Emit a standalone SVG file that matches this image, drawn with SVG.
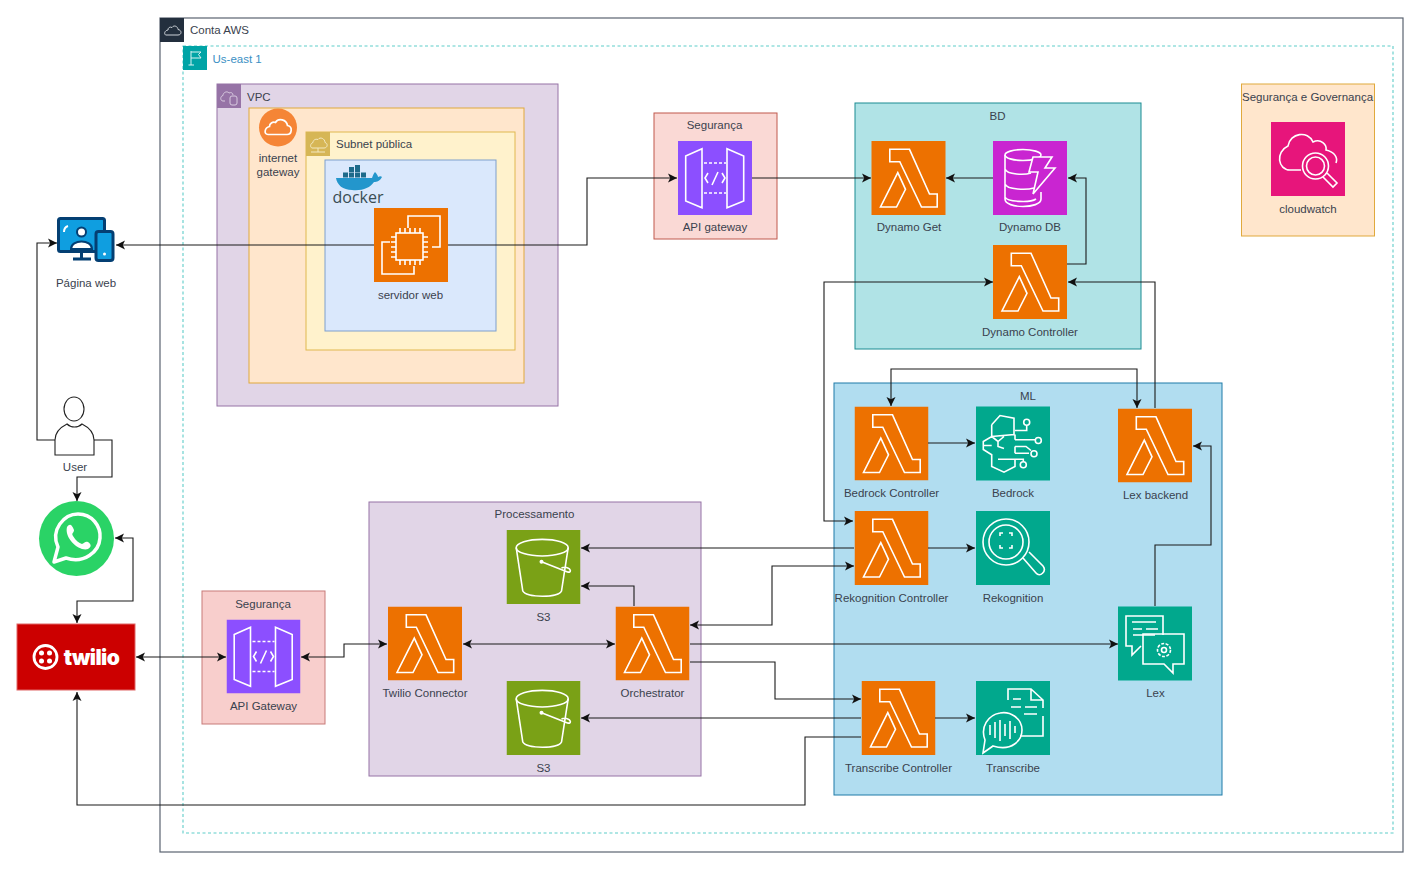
<svg xmlns="http://www.w3.org/2000/svg" width="1417" height="869" viewBox="0 0 1417 869">
<style>
text{font-family:"Liberation Sans",Arial,sans-serif;font-size:11.5px;fill:#3a424e;text-anchor:middle}
.l{text-anchor:start}
.i{fill:none;stroke:#fff;stroke-width:1.6;stroke-linejoin:miter}
.c{fill:none;stroke:#1a1a1a;stroke-width:1.1;marker-end:url(#a)}
.b{marker-start:url(#a)}
</style>
<defs>
<marker id="a" markerUnits="userSpaceOnUse" markerWidth="11" markerHeight="11" refX="9" refY="5" orient="auto-start-reverse"><path d="M0 .5L9 5L0 9.500L2.200 5z" fill="#111"/></marker>
<symbol id="lambda" viewBox="0 0 74 74"><rect width="74" height="74" fill="#ed7100"/><path class="i" d="M18.300 8.300H38L58 53H65.700V66H50L28.300 20.700H18.300zM26.300 31.700L34 48.300L25 66H9z"/></symbol>
<symbol id="api" viewBox="0 0 74 74"><rect width="74" height="74" fill="#8c4fff"/><path class="i" d="M7.700 15L24 7.700V66.700L7.700 60zM49 7.700L65.700 15V60L49 66.700z"/><path class="i" stroke-dasharray="3 2" d="M26 22H48M26 52H48"/><path class="i" d="M30 32L27 37L30 42M40 31L34 44M44 32L47 37L44 42"/></symbol>
<symbol id="bucket" viewBox="0 0 74 74"><rect width="74" height="74" fill="#7aa116"/><ellipse class="i" cx="35.700" cy="17.700" rx="26" ry="8.300"/><path class="i" d="M9.700 17.700L16.300 61C20 68 52 68 55 61L61.700 17.700M35 31.700L61 42C65 43 65 39 60 37.500C58 37 56 37.500 55 38"/><circle cx="35" cy="31.700" r="2" fill="#fff"/></symbol>
</defs>

<g id="conta-aws"><rect x="160" y="18" width="1243" height="834" fill="#fff" stroke="#5a6370" stroke-width="1.200"/><rect x="160" y="18" width="24" height="24" fill="#232f3e"/><path d="M166 35h12c4 0 4-5 0-5.500c0-3-4-5-6-2c-2-1-4 0-4 2.500c-4 .5-4 5-2 5z" fill="none" stroke="#cdd2d8"/><text class="l" x="190" y="34">Conta AWS</text></g>
<g id="us-east-1"><rect x="183" y="46" width="1210" height="787" fill="none" stroke="#5fcdc9" stroke-width="1.100" stroke-dasharray="3 2.500"/><rect x="183" y="46" width="24" height="24" fill="#00a4a6"/><path d="M191 51V65M188.500 65H194M191 52H201L198.500 54.500L201 58H191" fill="none" stroke="#d8f2f2"/><text class="l" x="212.500" y="63" style="fill:#3b8fc4">Us-east 1</text></g>

<g id="vpc"><rect x="217" y="84" width="341" height="322" fill="#e1d5e7" stroke="#9673a6"/><rect x="217" y="84" width="24" height="24" fill="#9673a6"/><path d="M225 101h-2c-3 0-3-5 0-5.500c0-3 4-5 6-2.500c2-1 4 0 4 2" fill="none" stroke="#d9cbe0"/><rect x="230" y="96" width="7" height="9" rx="2" fill="none" stroke="#d9cbe0"/><text class="l" x="247" y="101">VPC</text></g>
<g id="gateway-zone"><rect x="249" y="108" width="275" height="275" fill="#ffe6cc" stroke="#e0a93c"/></g>
<g id="internet-gateway"><circle cx="278" cy="127.500" r="19" fill="#f58536"/><path d="M268 134.500h19c5 0 6-8 .5-9c-1-6-9-8-12-3c-3-1-6 1-6 4c-5 1-6 8-1.500 8z" fill="none" stroke="#fff" stroke-width="1.700"/><text x="278" y="162">internet</text><text x="278" y="175.500">gateway</text></g>
<g id="subnet"><rect x="306" y="132" width="209" height="218" fill="#fff2cc" stroke="#e0b84f"/><rect x="306" y="132" width="24" height="24" fill="#d6b656"/><path d="M312 148h12c4 0 4-5 1-5.500c0-4-5-6-7-3c-3-1-5 1-5 3c-3 1-3 5-1 5.500zM318 148v4M311 152h14" fill="none" stroke="#f3e8bf"/><text class="l" x="336" y="148">Subnet pública</text></g>
<g id="container"><rect x="325" y="160" width="171" height="171" fill="#dae8fc" stroke="#7f9fcc"/></g>
<g id="docker">
<path d="M336 178H372C373 175 374 173 375 172C377 174 378 176 378 177C380 176 381 176 382 177C380 181 377 182 374 182C370 188 362 191 352 190C343 190 337 185 336 178z" fill="#2396cc"/>
<g fill="#1d6a8a"><rect x="343" y="172.500" width="5" height="5"/><rect x="349" y="172.500" width="5" height="5"/><rect x="355" y="172.500" width="5" height="5"/><rect x="361" y="172.500" width="5" height="5"/><rect x="349" y="167" width="5" height="5"/><rect x="355" y="167" width="5" height="5"/><rect x="355" y="165" width="5" height="3"/></g>
<text x="358" y="203" style="font-family:'Open Sans',sans-serif;font-size:16px;fill:#394d54">docker</text>
</g>

<g id="servidor-web"><rect x="374" y="208" width="74" height="74" fill="#ed7100"/><path class="i" d="M408 228V216H440V247H432M390 242H382V274H414V266"/><rect class="i" x="396" y="233" width="27" height="27"/><path class="i" stroke-width="1.200" d="M400 233V228M405 233V228M410 233V228M415 233V228M420 233V228M400 265V260M405 265V260M410 265V260M415 265V260M420 265V260M391 237H396M391 242H396M391 247H396M391 252H396M391 257H396M423 237H428M423 242H428M423 247H428M423 252H428M423 257H428"/><text x="410.500" y="299">servidor web</text></g>

<g id="pagina-web">
<rect x="58.500" y="218.500" width="46" height="33" rx="2" fill="#0f9ee0" stroke="#043f73" stroke-width="3"/>
<circle cx="81.500" cy="232" r="4.500" fill="#fff" stroke="#043f73" stroke-width="2"/><path d="M71 249c0-10 21-10 21 0z" fill="#fff" stroke="#043f73" stroke-width="2"/>
<path d="M64 232c0-3 1-5 4-6" fill="none" stroke="#fff" stroke-width="2"/>
<path d="M81.500 252V258M73 259H91" stroke="#043f73" stroke-width="3" fill="none"/>
<rect x="96" y="231.500" width="17" height="29" rx="2.500" fill="#0f9ee0" stroke="#043f73" stroke-width="3"/><circle cx="104.500" cy="254" r="1.500" fill="#fff"/>
<text x="86" y="287">Página web</text>
</g>

<g id="user"><ellipse cx="74" cy="409" rx="10" ry="12" fill="#fff" stroke="#222" stroke-width="1.100"/><path d="M55 455V440C55 431 61 427 67 424C71 428 78 428 82 424C88 427 94 431 94 440V455z" fill="#fff" stroke="#222" stroke-width="1.100"/><text x="75" y="471">User</text></g>

<g id="whatsapp"><circle cx="76.500" cy="538.500" r="37.500" fill="#2ad366"/><path d="M54 562L58 547C50 530 64 514 78 514C92 514 101 526 100 538C99 552 84 564 66 558z" fill="none" stroke="#fff" stroke-width="3.500" stroke-linejoin="round"/><path d="M67 527C70 523 72 525 74 530C74 533 71 533 73 536C76 541 79 543 82 544C85 543 85 541 88 542C92 545 91 547 88 549C80 552 64 539 67 527z" fill="#fff"/></g>

<g id="twilio"><rect x="17" y="624" width="118" height="66" fill="#cc0000" stroke="#e06666"/><circle cx="45.500" cy="657" r="11.500" fill="none" stroke="#fff" stroke-width="2.800"/><g fill="#fff"><circle cx="41.500" cy="653" r="2.500"/><circle cx="49.500" cy="653" r="2.500"/><circle cx="41.500" cy="661" r="2.500"/><circle cx="49.500" cy="661" r="2.500"/></g><text x="91.500" y="664.500" style="font-family:Inter,sans-serif;font-size:21px;font-weight:900;fill:#fff;letter-spacing:-.6px">twilio</text></g>

<g id="seguranca-top"><rect x="654" y="113" width="123" height="126" fill="#fad9d5" stroke="#c0584c"/><text x="714.500" y="129">Segurança</text><use href="#api" x="678" y="141" width="74" height="74"/><text x="715" y="231">API gateway</text></g>
<g id="seguranca-bottom"><rect x="202" y="591" width="123" height="133" fill="#f8cecc" stroke="#c77a78"/><text x="263" y="608">Segurança</text><use href="#api" x="226.500" y="619.500" width="74" height="74"/><text x="263.500" y="710">API Gateway</text></g>

<g id="bd"><rect x="855" y="103" width="286" height="246" fill="#b0e3e6" stroke="#1a8b92"/><text x="997.500" y="119.500">BD</text></g>
<g id="dynamo-get"><use href="#lambda" x="871" y="141" width="75" height="74"/><text x="909" y="231">Dynamo Get</text></g>
<g id="dynamo-db"><rect x="993" y="141" width="74" height="74" fill="#c925d1"/><g class="i"><ellipse cx="1023" cy="155" rx="18" ry="5.500"/><path d="M1005 155V199C1005 209 1041 209 1041 199V192M1005 169C1007 175 1025 175 1031 173M1005 184C1007 190 1027 190 1034 188M1005 197C1007 202 1030 203 1036 199"/></g><path class="i" d="M1033 157H1052L1045 168H1055L1033 194L1038 172H1029z" style="fill:#c925d1"/><text x="1030" y="231">Dynamo DB</text></g>
<g id="dynamo-controller"><use href="#lambda" x="993" y="245" width="74" height="74"/><text x="1030" y="335.500">Dynamo Controller</text></g>

<g id="governanca"><rect x="1241.500" y="84" width="133" height="152" fill="#ffe6cc" stroke="#e0a93c"/><text x="1307.500" y="101">Segurança e Governança</text><rect x="1271" y="122" width="74" height="74" fill="#e7157b"/><path class="i" d="M1301 170H1290C1278 170 1275 152 1288 146C1290 133 1308 130 1313 142C1321 138 1327 145 1326 150C1335 152 1338 158 1336 163"/><circle class="i" cx="1315.500" cy="166" r="13"/><circle class="i" cx="1315.500" cy="166" r="9"/><path class="i" d="M1323 177L1333 187L1337 183L1327 173"/><text x="1308" y="213">cloudwatch</text></g>

<g id="ml"><rect x="834" y="383" width="388" height="412" fill="#b1ddf0" stroke="#1f7ba8"/><text x="1028" y="399.500">ML</text></g>
<g id="bedrock-controller"><use href="#lambda" x="854.500" y="406.500" width="74" height="74"/><text x="891.500" y="497">Bedrock Controller</text></g>
<g id="bedrock"><rect x="976" y="406.500" width="74" height="74" fill="#01a88d"/><path class="i" transform="translate(976 406.500)" d="M15.700 18.300L24 9L38 11.700V28L15.700 30L7.300 35V43L15.700 48.300V60L28 65.700L39 60V52.700L22 52.700M15.700 18.300V30L22 35L28 30M22 35V40L28 42M7.300 39H15.700M39 33.300H59M39 24H50.700V19M39 46.700H53M39 40H50L55 44M39 52.700H47.300V55M39 28V33.300M39 40V46.700"/><g class="i" transform="translate(976 406.500)"><circle cx="50.700" cy="15.700" r="3"/><circle cx="62.300" cy="34" r="3"/><circle cx="58" cy="47.300" r="3"/><circle cx="47.300" cy="58.300" r="3"/></g><text x="1013" y="497">Bedrock</text></g>
<g id="lex-backend"><use href="#lambda" x="1118" y="408.500" width="74" height="74"/><text x="1155.500" y="499">Lex backend</text></g>
<g id="rekognition-controller"><use href="#lambda" x="854.500" y="511" width="74" height="74"/><text x="891.500" y="601.500">Rekognition Controller</text></g>
<g id="rekognition"><rect x="976" y="511" width="74" height="74" fill="#01a88d"/><circle class="i" cx="1006" cy="542" r="23"/><circle class="i" cx="1006" cy="542" r="17"/><path class="i" d="M1023 558L1036 573C1040 578 1047 571 1043 566L1029 552M1000 536V533H1003M1009 533H1012V536M1012 545V548H1009M1003 548H1000V545"/><text x="1013" y="601.500">Rekognition</text></g>
<g id="lex"><rect x="1118" y="606.500" width="74" height="74" fill="#01a88d"/><path class="i" d="M1163 635V616H1126V646H1132V655L1141 646M1132 622H1156M1133 629H1142M1146 629H1158M1133 635H1155"/><path class="i" d="M1143 634H1184V664H1173V673L1164 664H1143z"/><circle class="i" cx="1164" cy="650" r="6.500" stroke-dasharray="3 1.500"/><circle class="i" cx="1164" cy="650" r="2.500"/><text x="1155.500" y="697">Lex</text></g>
<g id="transcribe-controller"><use href="#lambda" x="861.500" y="681" width="74" height="74"/><text x="898.500" y="771.500">Transcribe Controller</text></g>
<g id="transcribe"><rect x="976" y="681" width="74" height="74" fill="#01a88d"/><path class="i" d="M1008 700V689H1031L1043 700V708M1031 689V700H1043M1013 699H1021M1025 707H1037M1021 707H1011M1024 714H1037M1043 716V736H1020"/><path class="i" d="M983 753L993 746C1012 752 1022 740 1022 730C1022 718 1010 711 1000 713C988 715 980 727 985 740z"/><path class="i" d="M990 725V735M995 722V738M1000 720V741M1005 724V736M1010 721V739M1015 726V733"/><text x="1013" y="771.500">Transcribe</text></g>

<g id="processamento"><rect x="369" y="502" width="332" height="274" fill="#e1d5e7" stroke="#9673a6"/><text x="534.500" y="518">Processamento</text></g>
<g id="s3-top"><use href="#bucket" x="506.500" y="530" width="74" height="74"/><text x="543.500" y="620.500">S3</text></g>
<g id="s3-bottom"><use href="#bucket" x="506.500" y="681" width="74" height="74"/><text x="543.500" y="771.500">S3</text></g>
<g id="twilio-connector"><use href="#lambda" x="388" y="606.500" width="74" height="74"/><text x="425" y="697">Twilio Connector</text></g>
<g id="orchestrator"><use href="#lambda" x="615.500" y="606.500" width="74" height="74"/><text x="652.500" y="697">Orchestrator</text></g>

<g id="connectors">
<path class="c" d="M374 245H116"/>
<path class="c" d="M448 245H587V178H677"/>
<path class="c" d="M752 178H871"/>
<path class="c" d="M993 178H946"/>
<path class="c" d="M1067 264H1086V178H1068"/>
<path class="c b" d="M853 521H824V282H993"/>
<path class="c" d="M1155 408V282H1068"/>
<path class="c b" d="M891 406V369H1137V408"/>
<path class="c" d="M928 443H975"/>
<path class="c" d="M928 548H975"/>
<path class="c" d="M854 548H581"/>
<path class="c" d="M634 606V586H581"/>
<path class="c b" d="M854 566H772V625H690"/>
<path class="c" d="M690 644H1118"/>
<path class="c" d="M690 662H775V699H861"/>
<path class="c" d="M861 718H581"/>
<path class="c" d="M935 718H975"/>
<path class="c" d="M861 737H805V805H77V692"/>
<path class="c b" d="M463 644H615"/>
<path class="c b" d="M301 657H344V644H387"/>
<path class="c b" d="M136 657H226"/>
<path class="c b" d="M115 538H133V601H77V623"/>
<path class="c" d="M94 440H112V477H77V501"/>
<path class="c" d="M55 440H37V243H57"/>
<path class="c" d="M1155 606V545H1211V446H1193"/>
</g>
</svg>
